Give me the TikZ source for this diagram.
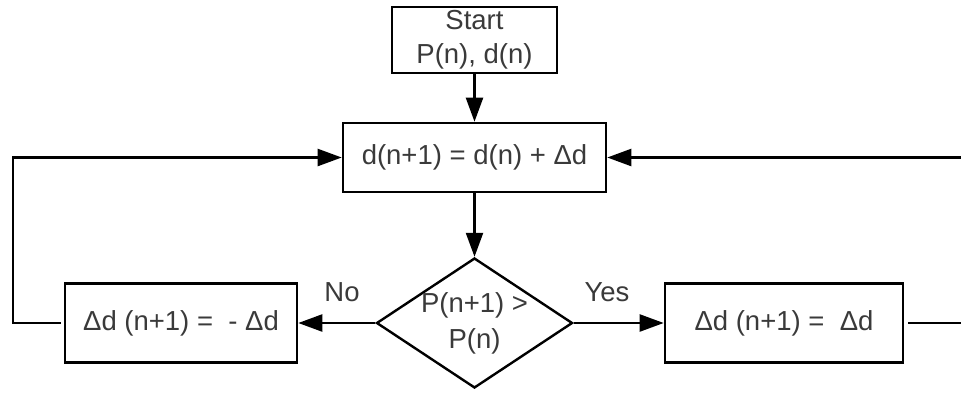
\documentclass[tikz,border=0pt]{standalone}
\usepackage{fontspec}
\setmainfont{Liberation Sans}
\usetikzlibrary{arrows.meta,shapes.geometric}
\definecolor{txt}{HTML}{3A3A3A}
\tikzset{
  box/.style={draw=black, line width=2.6pt, inner sep=0pt, text=txt, align=center,
    font=\fontsize{27.5}{34}\selectfont},
  conn/.style={line width=2.3pt, draw=black},
  arr/.style={conn, -{Triangle[length=24pt,width=17pt]}},
  lbl/.style={text=txt, font=\fontsize{27.5}{34}\selectfont, inner sep=0pt}
}
\begin{document}
\begin{tikzpicture}[x=1pt,y=-1pt]
\useasboundingbox (0,0) rectangle (961,394);
\fill[white] (0,0) rectangle (961,394);
\node[box, minimum width=165pt, minimum height=66pt] (start) at (474.5,40) {Start\\P(n), d(n)};
\node[box, minimum width=263pt, minimum height=69pt] (upd) at (474.5,157.5) {d(n+1) = d(n) + Δd};
\node[draw=black, line width=2.4pt, diamond, minimum width=196pt, minimum height=130pt, inner sep=0pt] (dia) at (474.5,323) {};
\node[lbl, align=center, font=\fontsize{27.5}{36}\selectfont] (diat) at (dia.center) {P(n+1) >\\P(n)};
\node[box, minimum width=232pt, minimum height=79pt] (neg) at (181,323) {Δd (n+1) =\ \ - Δd};
\node[box, minimum width=238pt, minimum height=79pt] (pos) at (784,323) {Δd (n+1) =\ \ Δd};
\node[lbl] (no) at (342,292) {No};
\node[lbl] (yes) at (607,292) {Yes};
\coordinate (lc) at (13,157.5);
\coordinate (rc) at (966,157.5);
\draw[arr] (start) -- (upd);
\draw[arr] (upd) -- (dia);
\draw[arr] (dia.west) -- (neg.east);
\draw[arr] (dia.east) -- (pos.west);
\draw[arr, shorten <=3pt] (neg.west) -| (lc) -- (upd.west);
\draw[arr, shorten <=4pt] (pos.east) -| (rc) -- (upd.east);
\end{tikzpicture}
\end{document}
